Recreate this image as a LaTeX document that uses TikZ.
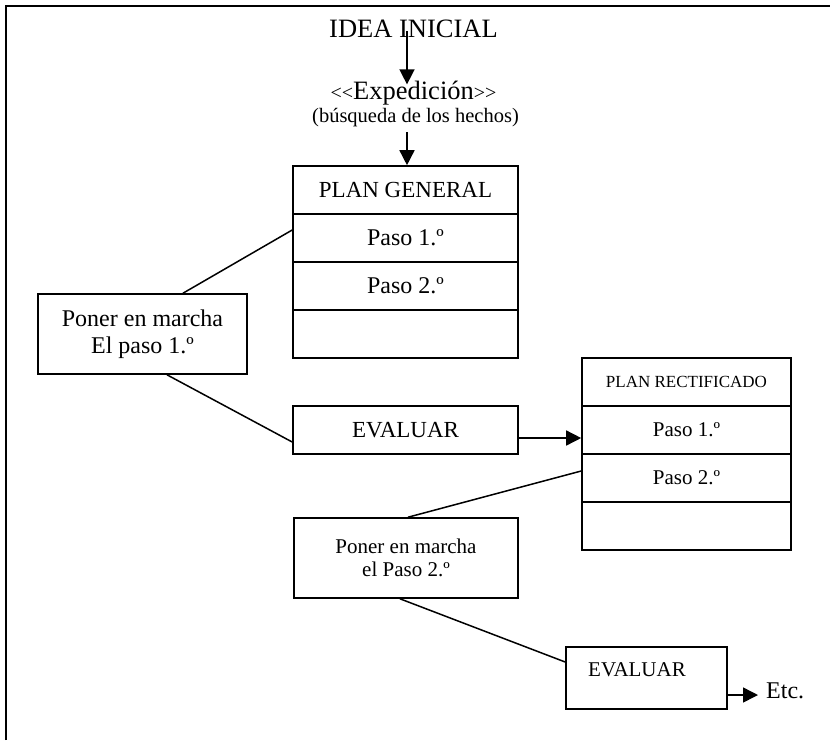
\documentclass[tikz,border=0pt]{standalone}
\usepackage{fontspec}
\setmainfont{Liberation Serif}
\newfontfamily\plainserif{Liberation Serif}
\usetikzlibrary{arrows.meta}
\begin{document}
\begin{tikzpicture}[x=1pt,y=-1pt,
  box/.style={draw, line width=1.6pt, rectangle, inner sep=0pt, align=center},
  conn/.style={line width=1.5pt},
  arr/.style={line width=1.5pt, -{Triangle[width=15pt,length=15pt]}},
  frame/.style={line width=2pt},
  txt/.style={inner sep=0pt},
  fbig/.style={font=\fontsize{26.5}{30}\selectfont},
  fhead/.style={font=\fontsize{23}{27}\selectfont},
  fmid/.style={font=\fontsize{24}{27}\selectfont},
  fsm/.style={font=\fontsize{21}{23}\selectfont},
  fsub/.style={font=\fontsize{20.5}{24}\selectfont},
  ftiny/.style={font=\fontsize{17}{20}\selectfont}]

\useasboundingbox (0,0) rectangle (830,740);

% page frame: top and left rules only
\draw[frame] (6,740) -- (6,6) -- (830,6);

% heading and expedition
\node[txt, fbig, anchor=base] (idea) at (413.5,37) {IDEA INICIAL};
\node[txt, fbig, anchor=base] (exp) at (413.5,99)
  {{\plainserif\fontsize{20}{24}\selectfont<<}Expedición{\plainserif\fontsize{20}{24}\selectfont>>}};
\node[txt, fsub, anchor=base] (busq) at (415.5,122) {(búsqueda de los hechos)};

% general plan
\node[box, fhead, minimum width=225pt, minimum height=48pt] (pg)  at (405.5,190) {PLAN GENERAL};
\node[box, fmid, minimum width=225pt, minimum height=48pt] (pg1) at (405.5,238) {Paso 1.º};
\node[box, fmid, minimum width=225pt, minimum height=48pt] (pg2) at (405.5,286) {Paso 2.º};
\node[box, fmid, minimum width=225pt, minimum height=48pt] (pg3) at (405.5,334) {};

% first step and its evaluation
\node[box, fmid, minimum width=209pt, minimum height=80pt] (pm1) at (142.5,334) {Poner en marcha\\El paso 1.º};
\node[box, fhead, minimum width=225pt, minimum height=48pt] (ev1) at (405.5,430) {EVALUAR};

% rectified plan
\node[box, ftiny, minimum width=209pt, minimum height=48pt] (pr)  at (686.5,382) {PLAN RECTIFICADO};
\node[box, fsm, minimum width=209pt, minimum height=48pt] (pr1) at (686.5,430) {Paso 1.º};
\node[box, fsm, minimum width=209pt, minimum height=48pt] (pr2) at (686.5,478) {Paso 2.º};
\node[box, fsm, minimum width=209pt, minimum height=48pt] (pr3) at (686.5,526) {};

% second step and its evaluation
\node[box, fsm, minimum width=224pt, minimum height=80pt] (pm2) at (406,558) {Poner en marcha\\el Paso 2.º};
\node[box, minimum width=161pt, minimum height=62pt] (ev2) at (646.5,678) {};
\node[txt, fsm] (ev2t) at (637,670) {EVALUAR};
\node[txt, font=\fontsize{24}{28}\selectfont, anchor=base west, inner xsep=8pt] (etc) at (758,698) {Etc.};

% arrows down from the heading
\path (idea.center) ++(-6.5,3) coordinate (a1s);
\path (exp.north) ++(0,4) coordinate (a1e);
\draw[arr] (a1s) -- (a1s |- a1e);
\path ([xshift=1.5pt]pg.north) ++(0,-33) coordinate (a2s);
\draw[arr] (a2s) -- ([xshift=1.5pt]pg.north);

% connectors
\draw[conn] ([xshift=40.5pt]pm1.north) -- ([yshift=8pt]pg1.west);
\draw[conn] ([xshift=24.5pt]pm1.south) -- ([yshift=-12pt]ev1.west);
\draw[arr]  ([yshift=-8pt]ev1.east) -- ([yshift=-8pt]pr1.west);
\draw[conn] ([xshift=2pt]pm2.north) -- ([yshift=7pt]pr2.west);
\draw[conn] ([xshift=-6pt]pm2.south) -- ([yshift=16pt]ev2.west);
\path (ev2.east) ++(0,17) coordinate (ev2out);
\draw[arr] (ev2out) -- (ev2out -| etc.west);
\end{tikzpicture}
\end{document}
